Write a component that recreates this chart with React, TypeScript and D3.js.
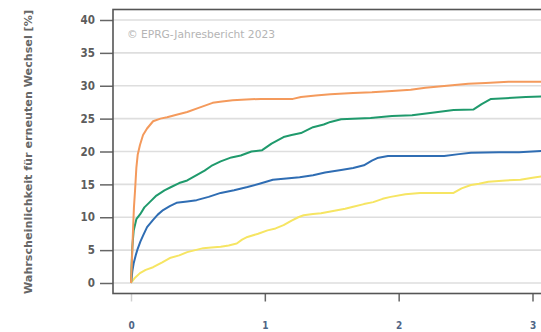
import * as d3 from "d3";
import { useEffect, useRef } from "react";

const yTicks = [0, 5, 10, 15, 20, 25, 30, 35, 40];
const xTicks = [0, 1, 2, 3];
const yTitle = "Wahrscheinlichkeit für erneuten Wechsel [%]";
const source = "© EPRG-Jahresbericht 2023";

// orange
const orangeT = [0, 0.008, 0.015, 0.022, 0.03, 0.04, 0.05, 0.067, 0.09, 0.12, 0.165, 0.22, 0.27, 0.34, 0.42, 0.5, 0.61, 0.68, 0.76, 0.86, 0.97, 1.1, 1.21, 1.27, 1.38, 1.49, 1.66, 1.8, 1.95, 2.09, 2.2, 2.3, 2.42, 2.52, 2.65, 2.82, 3.1];
const orangeV = [0, 4, 8, 11.5, 14, 17.5, 19.5, 21, 22.5, 23.5, 24.6, 25, 25.2, 25.6, 26, 26.6, 27.4, 27.6, 27.8, 27.9, 28, 28, 28, 28.3, 28.5, 28.7, 28.9, 29, 29.2, 29.4, 29.7, 29.9, 30.1, 30.3, 30.4, 30.6, 30.6];

// green
const greenT = [0, 0.005, 0.01, 0.02, 0.04, 0.07, 0.1, 0.14, 0.19, 0.25, 0.3, 0.36, 0.42, 0.48, 0.55, 0.6, 0.67, 0.75, 0.82, 0.9, 0.98, 1.05, 1.14, 1.2, 1.27, 1.36, 1.44, 1.49, 1.57, 1.79, 1.95, 2.1, 2.25, 2.41, 2.56, 2.62, 2.69, 2.8, 2.95, 3.1];
const greenV = [0, 3, 5.5, 8, 9.7, 10.5, 11.5, 12.3, 13.3, 14.1, 14.6, 15.2, 15.6, 16.3, 17.1, 17.8, 18.5, 19.1, 19.4, 20, 20.2, 21.2, 22.2, 22.5, 22.8, 23.7, 24.1, 24.5, 24.9, 25.1, 25.4, 25.5, 25.9, 26.3, 26.4, 27.2, 28, 28.1, 28.3, 28.4];

// blue
const blueT = [0, 0.005, 0.01, 0.02, 0.035, 0.05, 0.07, 0.09, 0.12, 0.165, 0.2, 0.24, 0.29, 0.34, 0.42, 0.49, 0.58, 0.67, 0.77, 0.87, 0.96, 1.06, 1.16, 1.26, 1.36, 1.45, 1.57, 1.66, 1.74, 1.8, 1.84, 1.92, 2.1, 2.34, 2.45, 2.54, 2.75, 2.9, 3.1];
const blueV = [0, 0.8, 1.8, 3, 4.2, 5.2, 6.3, 7.2, 8.5, 9.6, 10.4, 11.1, 11.7, 12.2, 12.4, 12.6, 13.1, 13.7, 14.1, 14.6, 15.1, 15.7, 15.9, 16.1, 16.4, 16.8, 17.2, 17.5, 17.9, 18.6, 19, 19.3, 19.3, 19.3, 19.6, 19.8, 19.9, 19.9, 20.1];

// yellow
const yellowT = [0, 0.01, 0.03, 0.067, 0.11, 0.165, 0.23, 0.29, 0.36, 0.42, 0.48, 0.54, 0.6, 0.67, 0.73, 0.79, 0.83, 0.87, 0.95, 1.02, 1.08, 1.14, 1.2, 1.25, 1.29, 1.36, 1.42, 1.52, 1.6, 1.66, 1.74, 1.81, 1.88, 1.94, 2.05, 2.16, 2.3, 2.41, 2.47, 2.54, 2.6, 2.67, 2.8, 2.91, 3.0, 3.1];
const yellowV = [0, 0.3, 0.8, 1.5, 2, 2.4, 3.1, 3.8, 4.2, 4.7, 5, 5.3, 5.4, 5.5, 5.7, 6, 6.6, 7, 7.5, 8, 8.3, 8.8, 9.5, 10, 10.3, 10.5, 10.6, 11, 11.3, 11.6, 12, 12.3, 12.8, 13.1, 13.5, 13.7, 13.7, 13.7, 14.4, 14.9, 15.1, 15.4, 15.6, 15.7, 16, 16.3];

const series = [
  { t: yellowT, v: yellowV, color: "#f6e563" },
  { t: blueT, v: blueV, color: "#2f6db3" },
  { t: greenT, v: greenV, color: "#1f9a6c" },
  { t: orangeT, v: orangeV, color: "#f49a5c" },
];

const App = () => {
  const ref = useRef(null);

  useEffect(() => {
    const svg = d3.select(ref.current);
    svg.selectAll("*").remove();

    const left = 113, top = 9.5, bottom = 293.5, right = 560;
    const font = "'DejaVu Sans Condensed', 'DejaVu Sans', sans-serif";
    const x = d3.scaleLinear().domain([0, 3]).range([131, 532.5]);
    const y = d3.scaleLinear().domain([0, 40]).range([283, 20]);

    svg.append("rect")
      .attr("width", 541).attr("height", 332).attr("fill", "#fff");

    // gridlines
    svg.append("g")
      .selectAll("line")
      .data(yTicks)
      .enter()
      .append("line")
      .attr("x1", left).attr("x2", right)
      .attr("y1", (d) => y(d)).attr("y2", (d) => y(d))
      .attr("stroke", "#dedede")
      .attr("stroke-width", 1.6);

    // y axis, ticks sit outside the frame
    const yAxis = d3.axisLeft(y).tickValues(yTicks).tickSize(13).tickPadding(5);
    const gy = svg.append("g")
      .attr("transform", "translate(" + left + ",0)")
      .call(yAxis);
    gy.select(".domain").remove();
    gy.selectAll(".tick line").attr("stroke", "#666").attr("stroke-width", 1.5);
    gy.selectAll(".tick text")
      .attr("fill", "#5c5c5c")
      .attr("font-size", 11.5)
      .attr("font-weight", 700)
      .attr("font-family", font);

    // x axis
    const xAxis = d3.axisBottom(x).tickValues(xTicks).tickSize(8).tickPadding(20).tickFormat(d3.format("d"));
    const gx = svg.append("g")
      .attr("transform", "translate(0," + bottom + ")")
      .call(xAxis);
    gx.select(".domain").remove();
    gx.selectAll(".tick line")
      .attr("stroke", (d) => (d === 0 ? "#d0d0d0" : "#666"))
      .attr("stroke-width", 1.5);
    gx.selectAll(".tick text")
      .attr("fill", "#4f6585")
      .attr("font-size", 10)
      .attr("font-weight", 700)
      .attr("font-family", font);

    const line = d3.line()
      .x((d) => x(d[0]))
      .y((d) => y(d[1]));

    series.forEach((s) => {
      const pts = s.t.map((t, i) => [t, s.v[i]]);
      svg.append("path")
        .datum(pts)
        .attr("d", line)
        .attr("fill", "none")
        .attr("stroke", s.color)
        .attr("stroke-width", 2)
        .attr("stroke-linejoin", "round");
    });

    // frame
    svg.append("rect")
      .attr("x", left).attr("y", top)
      .attr("width", right - left).attr("height", bottom - top)
      .attr("fill", "none")
      .attr("stroke", "#555")
      .attr("stroke-width", 1.6);

    svg.append("text")
      .attr("x", 127).attr("y", 38)
      .attr("fill", "#b4b4b4")
      .attr("font-size", 10)
      .attr("font-family", font)
      .attr("textLength", 148)
      .attr("lengthAdjust", "spacingAndGlyphs")
      .text(source);

    svg.append("text")
      .attr("transform", "translate(32,152) rotate(-90)")
      .attr("text-anchor", "middle")
      .attr("fill", "#666")
      .attr("font-size", 11)
      .attr("font-weight", 600)
      .attr("font-family", font)
      .attr("textLength", 284)
      .attr("lengthAdjust", "spacingAndGlyphs")
      .text(yTitle);
  }, []);

  return (
    <svg ref={ref} width={541} height={332} style={{ position: "absolute", left: 0, top: 0 }} />
  );
};

export default App;
